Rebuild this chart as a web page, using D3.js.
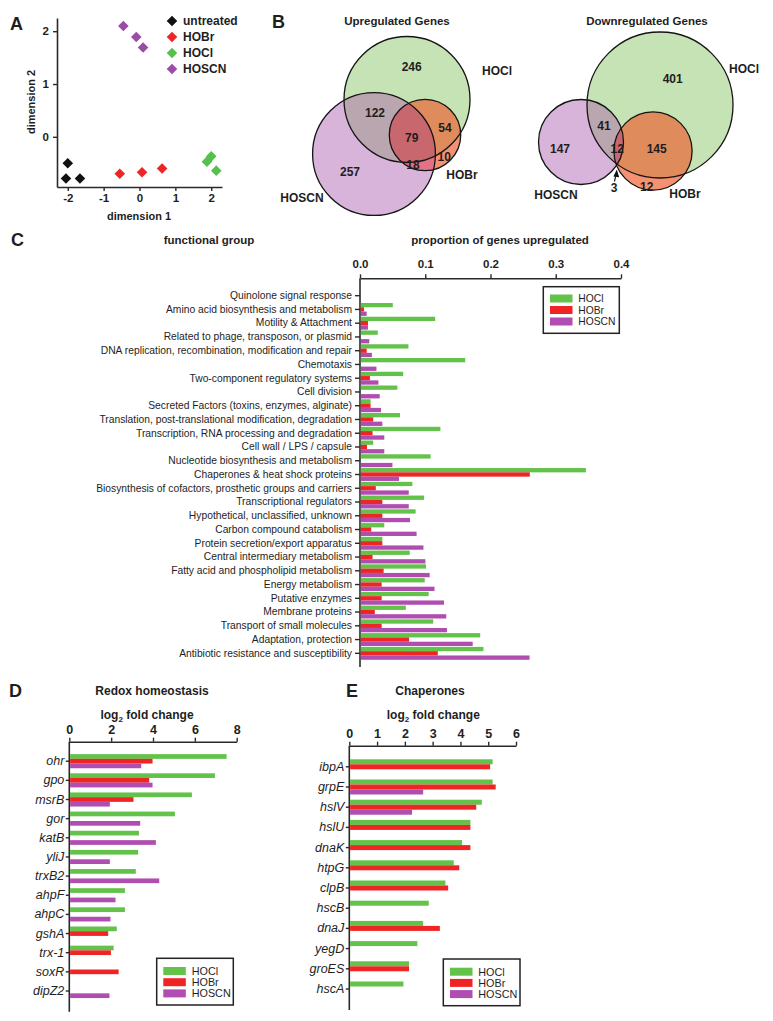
<!DOCTYPE html>
<html><head><meta charset="utf-8">
<script src="https://cdn.jsdelivr.net/npm/d3@7"></script>
<style>
body{margin:0;background:#fff}
svg text{font-family:"Liberation Sans",Arial,Helvetica,sans-serif;fill:#1e1e1e}
</style>
</head><body>
<svg id="fig" width="773" height="1021"></svg>
<script>
// ================= DATA =================
// Panel A: MDS plot
const mdsGroups = ["untreated", "HOBr", "HOCl", "HOSCN"];
const mdsDim1 = [-2.00, -2.05, -1.66, -0.55, 0.07, 0.63, 1.88, 2.00, 2.14, -0.45, -0.09, 0.10];
const mdsDim2 = [-0.50, -0.79, -0.79, -0.70, -0.67, -0.60, -0.47, -0.37, -0.64, 2.10, 1.89, 1.69];
const mdsSampleGroup = [0, 0, 0, 1, 1, 1, 2, 2, 2, 3, 3, 3];
const mdsXTicks = [-2, -1, 0, 1, 2];
const mdsYTicks = [0, 1, 2];

// Panel B: Venn diagrams; region order: HOCl only, HOCl∩HOSCN, all three, HOCl∩HOBr, HOBr only, HOSCN∩HOBr, HOSCN only
const vennSets = ["HOCl", "HOSCN", "HOBr"];
const upCounts = [246, 122, 79, 54, 10, 18, 257];
const downCounts = [401, 41, 12, 145, 12, 3, 147];

// Panel C: functional groups
const funcGroups = [
  "Quinolone signal response",
  "Amino acid biosynthesis and metabolism",
  "Motility & Attachment",
  "Related to phage, transposon, or plasmid",
  "DNA replication, recombination, modification and repair",
  "Chemotaxis",
  "Two-component regulatory systems",
  "Cell division",
  "Secreted Factors (toxins, enzymes, alginate)",
  "Translation, post-translational modification, degradation",
  "Transcription, RNA processing and degradation",
  "Cell wall / LPS / capsule",
  "Nucleotide biosynthesis and metabolism",
  "Chaperones & heat shock proteins",
  "Biosynthesis of cofactors, prosthetic groups and carriers",
  "Transcriptional regulators",
  "Hypothetical, unclassified, unknown",
  "Carbon compound catabolism",
  "Protein secretion/export apparatus",
  "Central intermediary metabolism",
  "Fatty acid and phospholipid metabolism",
  "Energy metabolism",
  "Putative enzymes",
  "Membrane proteins",
  "Transport of small molecules",
  "Adaptation, protection",
  "Antibiotic resistance and susceptibility"
];
const funcHOCl  = [0, 0.049, 0.114, 0.026, 0.073, 0.160, 0.065, 0.056, 0.015, 0.060, 0.122, 0.019, 0.107, 0.345, 0.079, 0.097, 0.084, 0.036, 0.033, 0.075, 0.100, 0.098, 0.104, 0.069, 0.111, 0.183, 0.188];
const funcHOBr  = [0, 0.005, 0.011, 0, 0.009, 0, 0.014, 0, 0.015, 0.019, 0.018, 0.0095, 0, 0.259, 0.023, 0.033, 0.033, 0.016, 0.033, 0.018, 0.035, 0.032, 0.032, 0.0215, 0.032, 0.074, 0.118];
const funcHOSCN = [0, 0.009, 0.011, 0.013, 0.017, 0.024, 0.027, 0.029, 0.031, 0.033, 0.036, 0.036, 0.0485, 0.0585, 0.0735, 0.0735, 0.0754, 0.0855, 0.096, 0.099, 0.1055, 0.113, 0.1275, 0.131, 0.132, 0.1715, 0.2586];
const funcTicks = [0, 0.1, 0.2, 0.3, 0.4];

// Panel D: redox homeostasis
const redoxGenes = ["ohr", "gpo", "msrB", "gor", "katB", "yliJ", "trxB2", "ahpF", "ahpC", "gshA", "trx-1", "soxR", "dipZ2"];
const redoxHOCl  = [7.48, 6.92, 5.82, 5.01, 3.29, 3.25, 3.14, 2.62, 2.62, 2.23, 2.08, 0, 0];
const redoxHOBr  = [3.94, 3.78, 3.03, 0, 0, 0, 0, 0, 0, 1.82, 1.95, 2.32, 0];
const redoxHOSCN = [3.40, 3.94, 1.90, 3.35, 4.10, 1.90, 4.26, 2.17, 1.93, 0, 0, 0, 1.88];
const redoxTicks = [0, 2, 4, 6, 8];

// Panel E: chaperones
const chapGenes = ["ibpA", "grpE", "hslV", "hslU", "dnaK", "htpG", "clpB", "hscB", "dnaJ", "yegD", "groES", "hscA"];
const chapHOCl  = [5.13, 5.13, 4.74, 4.33, 4.03, 3.73, 3.43, 2.83, 2.63, 2.42, 2.12, 1.92];
const chapHOBr  = [5.04, 5.24, 4.54, 4.33, 4.33, 3.93, 3.53, 0, 3.23, 0, 2.12, 0];
const chapHOSCN = [0, 2.63, 2.23, 0, 0, 0, 0, 0, 0, 0, 0, 0];
const chapTicks = [0, 1, 2, 3, 4, 5, 6];

const seriesNames = ["HOCl", "HOBr", "HOSCN"];

// ================= STYLE =================
const FONT = '"Liberation Sans", Arial, Helvetica, sans-serif';
const INK = "#1e1e1e";
const AXC = "#2a2a2a";
const seriesColor = {HOCl: "#62c249", HOBr: "#ef2424", HOSCN: "#b04db0"};
const mdsColors = ["#111111", "#ef2424", "#57c04c", "#9a4ca8"];

const svg = d3.select("#fig");

function styleAxis(g, fs, weight, style) {
  g.attr("font-family", FONT);
  g.select(".domain").attr("stroke", AXC).attr("stroke-width", 1.6);
  g.selectAll(".tick line").attr("stroke", AXC).attr("stroke-width", 1.4);
  g.selectAll(".tick text").attr("font-size", fs).attr("font-weight", weight)
    .attr("font-style", style || "normal").attr("fill", INK);
}
function txt(x, y, s, opts) {
  opts = opts || {};
  return svg.append("text").attr("x", x).attr("y", y)
    .attr("font-size", opts.fs || 12).attr("font-weight", opts.fw || "bold")
    .attr("text-anchor", opts.anchor || "middle").text(s);
}

// ================= PANEL A =================
txt(10, 30, "A", {fs: 18, anchor: "start"});
const ax = d3.scaleLinear().domain([-2.3, 2.3]).range([57, 222]);
const ay = d3.scaleLinear().domain([-0.95, 2.25]).range([187, 18]);
const gAx = svg.append("g").attr("transform", "translate(0,187)")
  .call(d3.axisBottom(ax).tickValues(mdsXTicks).tickSize(4).tickSizeOuter(0).tickPadding(3).tickFormat(d => String(d)));
styleAxis(gAx, 11.5, "bold");
const gAy = svg.append("g").attr("transform", "translate(57,0)")
  .call(d3.axisLeft(ay).tickValues(mdsYTicks).tickSize(4).tickSizeOuter(0).tickPadding(4).tickFormat(d => String(d)));
styleAxis(gAy, 11.5, "bold");
txt(139, 220, "dimension 1", {fs: 11});
svg.append("text").attr("transform", "translate(35,102) rotate(-90)").attr("text-anchor", "middle")
  .attr("font-size", 11).attr("font-weight", "bold").text("dimension 2");

const diamond = d3.symbol().type(d3.symbolSquare).size(56);
svg.append("g").selectAll("path").data(mdsDim1).join("path")
  .attr("d", diamond)
  .attr("transform", (d, i) => `translate(${ax(d)},${ay(mdsDim2[i])}) rotate(45)`)
  .attr("fill", (d, i) => mdsColors[mdsSampleGroup[i]]);
const legA = svg.append("g");
mdsGroups.forEach((g, i) => {
  const y = 21 + i * 16;
  legA.append("path").attr("d", diamond).attr("transform", `translate(172,${y}) rotate(45)`).attr("fill", mdsColors[i]);
  legA.append("text").attr("x", 183).attr("y", y).attr("dy", "0.36em").attr("font-size", 12)
    .attr("font-weight", "bold").text(g);
});

// ================= PANEL B =================
txt(272, 28, "B", {fs: 18, anchor: "start"});
const vennPalette = {single: ["#c6e3b5", "#d8b3da", "#f39172"], pair: {"0-1": "#b9a6ae", "0-2": "#df8b5b", "1-2": "#e27286"}, triple: "#c9676f"};

function drawVenn(counts, centers, rScale, idp, numPos, setPos) {
  const totals = [
    counts[0] + counts[1] + counts[2] + counts[3],
    counts[6] + counts[1] + counts[2] + counts[5],
    counts[4] + counts[3] + counts[2] + counts[5]
  ];
  const circ = vennSets.map((s, i) => ({name: s, cx: centers[i][0], cy: centers[i][1], r: rScale(totals[i])}));
  const defs = svg.append("defs");
  circ.forEach((c, i) => defs.append("clipPath").attr("id", idp + i)
    .append("circle").attr("cx", c.cx).attr("cy", c.cy).attr("r", c.r));
  const g = svg.append("g");
  const put = (sel, c) => sel.attr("cx", c.cx).attr("cy", c.cy).attr("r", c.r);
  circ.forEach((c, i) => put(g.append("circle"), c).attr("fill", vennPalette.single[i]));
  [[0, 1], [0, 2], [1, 2]].forEach(([a, b]) => {
    put(g.append("circle"), circ[b]).attr("clip-path", `url(#${idp}${a})`).attr("fill", vennPalette.pair[a + "-" + b]);
  });
  put(g.append("g").attr("clip-path", `url(#${idp}0)`).append("circle"), circ[2])
    .attr("clip-path", `url(#${idp}1)`).attr("fill", vennPalette.triple);
  circ.forEach(c => put(g.append("circle"), c).attr("fill", "none").attr("stroke", "#151515").attr("stroke-width", 1.3));
  counts.forEach((n, i) => {
    g.append("text").attr("x", numPos[i][0]).attr("y", numPos[i][1]).attr("dy", "0.36em")
      .attr("text-anchor", "middle").attr("font-size", 12).attr("font-weight", "bold").text(n);
  });
  vennSets.forEach((s, i) => {
    g.append("text").attr("x", setPos[i][0]).attr("y", setPos[i][1]).attr("dy", "0.36em")
      .attr("text-anchor", "middle").attr("font-size", 12).attr("font-weight", "bold").text(s);
  });
  return g;
}
txt(397, 25, "Upregulated Genes", {fs: 11.5});
drawVenn(upCounts,
  [[407, 99.5], [374, 154], [425, 135]],
  d3.scaleSqrt().domain([0, 501]).range([0, 63]), "vu",
  [[411.7, 67], [375, 113], [411.7, 138], [445, 128], [444.3, 157], [413, 165], [350, 172]],
  [[497, 71], [302, 198], [462, 175]]);

txt(647, 25, "Downregulated Genes", {fs: 11.5});
const gd = drawVenn(downCounts,
  [[660, 105], [581, 142], [653, 151]],
  d3.scaleSqrt().domain([0, 599]).range([0, 73]), "vd",
  [[672.7, 78.5], [604, 126], [617.3, 148.5], [656.7, 148.5], [646.7, 187], [614, 188], [560, 148.5]],
  [[744, 68.5], [556, 195], [685, 193.5]]);
gd.append("line").attr("x1", 614.5).attr("y1", 181.5).attr("x2", 616.3).attr("y2", 173)
  .attr("stroke", "#111").attr("stroke-width", 1.2);
gd.append("path").attr("d", "M616.8,169.5 L613.4,176.5 L619.2,177.2 Z").attr("fill", "#111");

// ================= PANEL C =================
txt(11, 246, "C", {fs: 18, anchor: "start"});
txt(209, 244, "functional group", {fs: 11.5});
txt(500, 244, "proportion of genes upregulated", {fs: 11.5});
const cx = d3.scaleLinear().domain([0, 0.4]).range([360, 621]);
const cy = d3.scaleBand().domain(funcGroups).range([288.8, 660.2]).paddingInner(0).paddingOuter(0);
const cSub = d3.scaleBand().domain(seriesNames).range([-6.45, 6.45]);
const cAxisTop = 278.3;
const gCx = svg.append("g").attr("transform", `translate(0,${cAxisTop})`)
  .call(d3.axisTop(cx).tickValues(funcTicks).tickSize(4).tickSizeOuter(0).tickPadding(6).tickFormat(d3.format(".1f")));
styleAxis(gCx, 11.5, "bold");
const gCy = svg.append("g").attr("transform", "translate(360,0)")
  .call(d3.axisLeft(cy).tickSize(5).tickPadding(3).tickSizeOuter(0));
styleAxis(gCy, 10.3, "normal");
gCy.select(".domain").remove();
svg.append("line").attr("x1", cx(0)).attr("x2", cx(0)).attr("y1", cAxisTop).attr("y2", 667)
  .attr("stroke", AXC).attr("stroke-width", 1.6);
const funcSeries = {HOCl: funcHOCl, HOBr: funcHOBr, HOSCN: funcHOSCN};
seriesNames.forEach(s => {
  svg.append("g").selectAll("rect").data(funcGroups).join("rect")
    .attr("x", cx(0) + 0.8)
    .attr("y", d => cy(d) + cy.bandwidth() / 2 + cSub(s))
    .attr("width", (d, i) => Math.max(0, cx(funcSeries[s][i]) - cx(0)))
    .attr("height", cSub.bandwidth())
    .attr("fill", seriesColor[s]);
});

function legend(x0, y0, w, h, sx, rows, tx, fs) {
  const g = svg.append("g");
  g.append("rect").attr("x", x0).attr("y", y0).attr("width", w).attr("height", h)
    .attr("fill", "#fff").attr("stroke", "#222").attr("stroke-width", 1.5);
  seriesNames.forEach((s, i) => {
    g.append("rect").attr("x", sx).attr("y", rows[i] - 4).attr("width", 22.5).attr("height", 8)
      .attr("fill", seriesColor[s]);
    g.append("text").attr("x", tx).attr("y", rows[i]).attr("dy", "0.36em").attr("font-size", fs)
      .attr("font-weight", "normal").text(s);
  });
}
legend(543.3, 286.7, 76, 46.6, 550, [298.5, 310, 321.5], 578.3, 10.3);

// ================= PANEL D & E =================
function geneChart(opt) {
  const x = d3.scaleLinear().domain(opt.domain).range(opt.xr);
  const y = d3.scaleBand().domain(opt.genes).range(opt.yr).paddingInner(0).paddingOuter(0);
  const sub = d3.scaleBand().domain(seriesNames).range([-1.5 * opt.bh, 1.5 * opt.bh]);
  const gx = svg.append("g").attr("transform", `translate(0,${opt.axisY})`)
    .call(d3.axisTop(x).tickValues(opt.ticks).tickSize(4).tickSizeOuter(0).tickPadding(4).tickFormat(d => String(d)));
  styleAxis(gx, 12.5, "bold");
  const gy = svg.append("g").attr("transform", `translate(${x(0)},0)`)
    .call(d3.axisLeft(y).tickSize(3.5).tickPadding(1.5).tickSizeOuter(0));
  styleAxis(gy, 12.5, "normal", "italic");
  gy.select(".domain").remove();
  svg.append("line").attr("x1", x(0)).attr("x2", x(0)).attr("y1", opt.axisY).attr("y2", opt.yEnd)
    .attr("stroke", AXC).attr("stroke-width", 1.6);
  seriesNames.forEach(s => {
    svg.append("g").selectAll("rect").data(opt.genes).join("rect")
      .attr("x", x(0) + 0.8)
      .attr("y", d => y(d) + y.bandwidth() / 2 + sub(s))
      .attr("width", (d, i) => Math.max(0, x(opt.values[s][i]) - x(0)))
      .attr("height", sub.bandwidth())
      .attr("fill", seriesColor[s]);
  });
}
function log2Title(cxp, y) {
  const t = svg.append("text").attr("x", cxp).attr("y", y).attr("text-anchor", "middle")
    .attr("font-size", 12).attr("font-weight", "bold");
  t.append("tspan").text("log");
  t.append("tspan").attr("font-size", 8).attr("dy", 3).text("2");
  t.append("tspan").attr("dy", -3).text(" fold change");
}

txt(9, 697, "D", {fs: 18, anchor: "start"});
txt(152, 695, "Redox homeostasis", {fs: 12});
log2Title(147, 719);
const step = 19.15;
geneChart({
  genes: redoxGenes, domain: [0, 8], xr: [69.3, 236.7], ticks: redoxTicks,
  yr: [761.2 - step / 2, 761.2 - step / 2 + step * redoxGenes.length], bh: 4.7,
  axisY: 741.7, yEnd: 1011.7,
  values: {HOCl: redoxHOCl, HOBr: redoxHOBr, HOSCN: redoxHOSCN}
});
legend(156.7, 958.3, 76.6, 46.7, 163.3, [971, 982.2, 993.4], 191.7, 10.8);

txt(346, 697, "E", {fs: 18, anchor: "start"});
txt(430, 695, "Chaperones", {fs: 12});
log2Title(433.3, 719);
const stepE = 20.2;
geneChart({
  genes: chapGenes, domain: [0, 6], xr: [349.3, 516], ticks: chapTicks,
  yr: [766.8 - stepE / 2, 766.8 - stepE / 2 + stepE * chapGenes.length], bh: 5,
  axisY: 745.7, yEnd: 1010,
  values: {HOCl: chapHOCl, HOBr: chapHOBr, HOSCN: chapHOSCN}
});
legend(443.3, 959, 76.7, 46.7, 450, [971.7, 982.9, 994.1], 478.3, 10.8);
</script>
</body></html>
